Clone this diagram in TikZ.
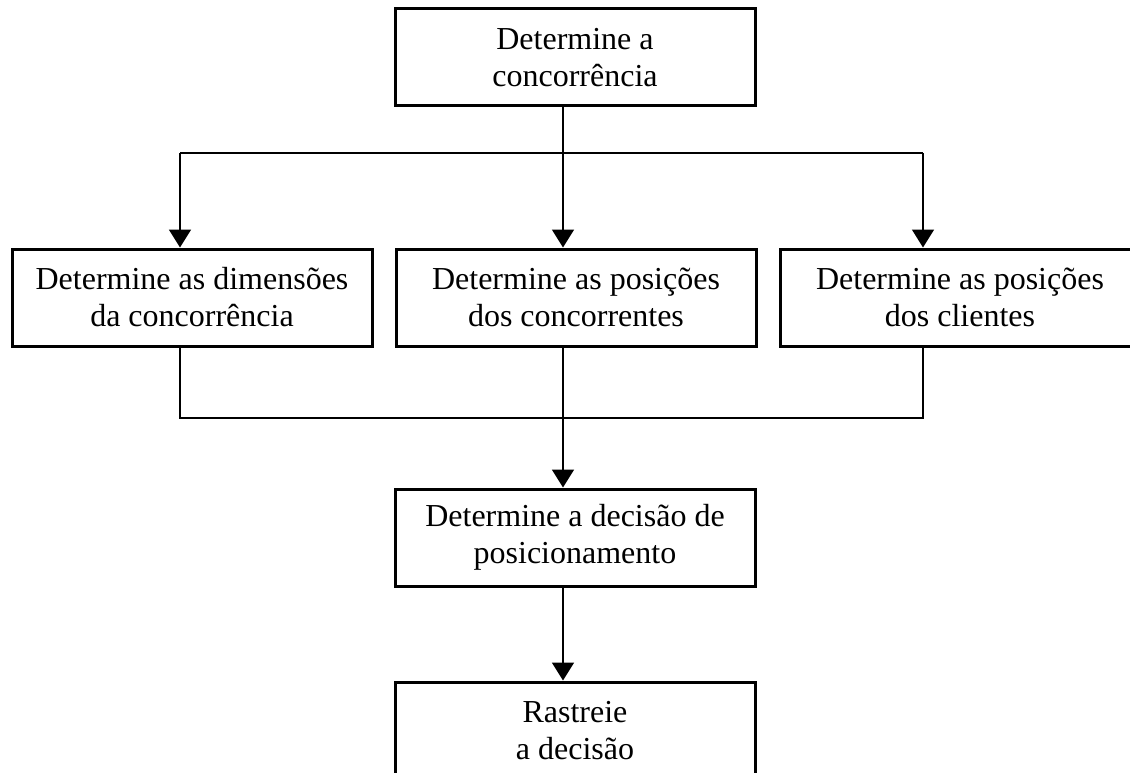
\documentclass[tikz,border=0pt]{standalone}
\usepackage{fontspec}
\setmainfont{Liberation Serif}
\usetikzlibrary{arrows.meta}
\begin{document}
\begin{tikzpicture}[x=1pt,y=-1pt,
  box/.style={draw,line width=3pt,minimum width=360pt,minimum height=97pt,
    align=center,inner sep=0pt,font=\fontsize{32}{37}\selectfont,
    execute at begin node={\rule{0pt}{28pt}}},
  conn/.style={line width=1.8pt},
  arr/.style={conn,-{Triangle[width=22pt,length=18pt]}}]
\useasboundingbox (0,0) rectangle (1130,773);
\clip (0,0) rectangle (1130,773);
\node[box] (top)  at (575,57.5)  {Determine a\\concorrência};
\node[box] (dim)  at (192,297.5) {Determine as dimensões\\da concorrência};
\node[box] (conc) at (576,297.5) {Determine as posições\\dos concorrentes};
\node[box] (cli)  at (960,297.5) {Determine as posições\\dos clientes};
\node[box] (dec)  at (575,537.5) {Determine a decisão de\\posicionamento};
\node[box] (ras)  at (575,730.5) {Rastreie\\a decisão};
\coordinate (s)  at (563,153);
\coordinate (sl) at (180,153);
\coordinate (sr) at (923,153);
\coordinate (j)  at (563,418);
\coordinate (jl) at (180,418);
\coordinate (jr) at (923,418);
\draw[conn] (top.south -| s) -- (s);
\draw[conn] (sl) -- (sr);
\draw[arr] (sl) -- (dim.north -| sl);
\draw[arr] (s) -- (conc.north -| s);
\draw[arr] (sr) -- (cli.north -| sr);
\draw[conn] (dim.south -| jl) -- (jl) -- (jr) -- (cli.south -| jr);
\draw[arr] (conc.south -| j) -- (dec.north -| j);
\draw[arr] (dec.south -| j) -- (ras.north -| j);
\end{tikzpicture}
\end{document}
